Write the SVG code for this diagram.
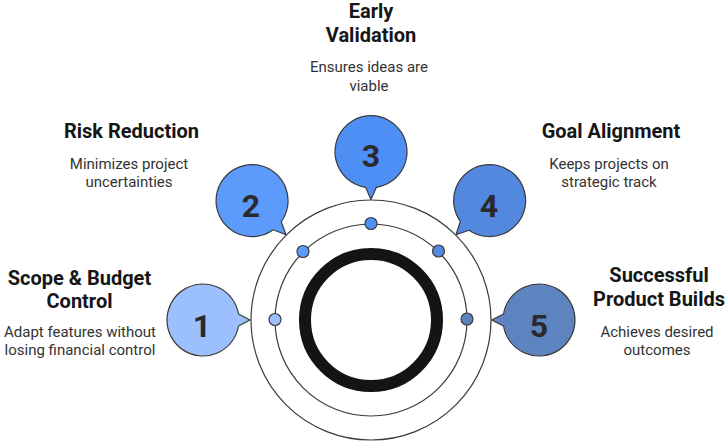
<svg xmlns="http://www.w3.org/2000/svg" width="726" height="441" viewBox="0 0 726 441">
<style>
.b{stroke:#3a3a3a;stroke-width:1.2;stroke-linejoin:round}
.d{stroke:#3a3a3a;stroke-width:1.2}
.r{fill:none;stroke:#3a3a3a;stroke-width:1.2}
.n{font:700 32px Roboto,sans-serif;fill:#2a2a2e;text-anchor:middle}
.t{font:700 20px Roboto,sans-serif;fill:#161616;text-anchor:middle}
.s{font:400 15px Roboto,sans-serif;fill:#333;text-anchor:middle}
</style>
<rect width="726" height="441" fill="#fff"/>
<g id="rings">
<circle class="r" cx="371" cy="320" r="120"/>
<circle class="r" cx="371" cy="320" r="96"/>
<circle cx="371" cy="320" r="66" fill="none" stroke="#141414" stroke-width="12"/>
</g>
<g id="connectors">
<circle class="d" cx="275" cy="319.5" r="6" fill="#9cbffd"/>
<circle class="d" cx="303" cy="251.5" r="6" fill="#5c9bfb"/>
<circle class="d" cx="371" cy="223.5" r="6" fill="#4d8ff5"/>
<circle class="d" cx="438.5" cy="251" r="6" fill="#5288de"/>
<circle class="d" cx="467" cy="319" r="6" fill="#5e84c0"/>
</g>
<g id="node-1">
<path class="b" fill="#9cbffd" d="M238.5 314A36 36 0 1 0 238.5 326L250 320Z"/>
<text class="n" x="202" y="337">1</text>
<text class="t" x="79.5" y="285">Scope &amp; Budget</text>
<text class="t" x="79.5" y="308">Control</text>
<text class="s" x="80" y="337">Adapt features without</text>
<text class="s" x="80" y="355">losing financial control</text>
</g>
<g id="node-2">
<path class="b" fill="#5c9bfb" d="M281.2 221.8A36 36 0 1 0 273.2 229.8L286 234.7Z"/>
<text class="n" x="251" y="217">2</text>
<text class="t" x="131.5" y="138">Risk Reduction</text>
<text class="s" x="129" y="169">Minimizes project</text>
<text class="s" x="129" y="187">uncertainties</text>
</g>
<g id="node-3">
<path class="b" fill="#4d8ff5" d="M376.4 187.3A36 36 0 1 0 365.6 187.3L371 199.5Z"/>
<text class="n" x="371" y="167">3</text>
<text class="t" x="371" y="18">Early</text>
<text class="t" x="371" y="42">Validation</text>
<text class="s" x="369" y="72">Ensures ideas are</text>
<text class="s" x="369" y="91">viable</text>
</g>
<g id="node-4">
<path class="b" fill="#5288de" d="M460.3 221.5A36 36 0 1 1 469.1 230.2L456 234.7Z"/>
<text class="n" x="489" y="217">4</text>
<text class="t" x="611" y="138">Goal Alignment</text>
<text class="s" x="609" y="169">Keeps projects on</text>
<text class="s" x="609" y="187">strategic track</text>
</g>
<g id="node-5">
<path class="b" fill="#5e84c0" d="M503.5 314A36 36 0 1 1 503.5 326L491.7 320Z"/>
<text class="n" x="539" y="337">5</text>
<text class="t" x="659" y="282">Successful</text>
<text class="t" x="659" y="306">Product Builds</text>
<text class="s" x="657" y="337">Achieves desired</text>
<text class="s" x="657" y="355">outcomes</text>
</g>
</svg>
